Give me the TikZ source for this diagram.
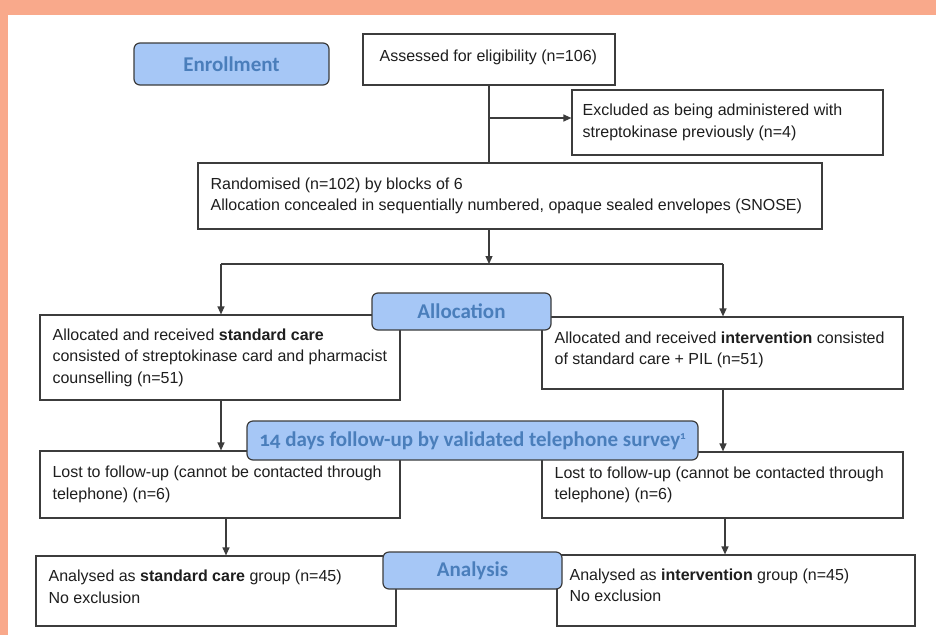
\documentclass[tikz,border=0pt]{standalone}
\usepackage{fontspec}
\setmainfont{Liberation Sans}
\newfontfamily\labfont[Numbers=OldStyle]{Carlito}
\usetikzlibrary{arrows.meta}
\definecolor{bgorange}{RGB}{249,169,139}
\definecolor{labfill}{RGB}{166,199,246}
\definecolor{labtext}{RGB}{74,126,187}
\definecolor{edge}{RGB}{60,60,60}
\definecolor{ink}{RGB}{30,30,30}
\begin{document}
\begin{tikzpicture}[x=1pt,y=-1pt,
  box/.style={draw=edge, line width=1.2pt, fill=white, rectangle, inner sep=0pt},
  txt/.style={anchor=west, align=left, inner sep=0pt, text=ink, font=\fontsize{16}{21.5}\selectfont},
  lab/.style={draw=edge, line width=1.2pt, fill=labfill, rounded corners=6pt, inner sep=0pt, text=labtext, font=\labfont\bfseries\fontsize{21}{25}\selectfont},
  arr/.style={draw=edge, line width=1.2pt, -{Triangle[length=8pt,width=7pt]}},
  ln/.style={draw=edge, line width=1.2pt}]

\useasboundingbox (0,0) rectangle (936,635);
\fill[bgorange] (0,0) rectangle (936,635);
\fill[white] (8,15) rectangle (936,635);

% boxes
\node[box, minimum width=252pt, minimum height=51pt] (assess) at (489,59.5) {};
\node[box, minimum width=311pt, minimum height=65pt] (excl) at (727.5,122.5) {};
\node[box, minimum width=624pt, minimum height=66pt] (rand) at (510,196) {};
\node[box, minimum width=360pt, minimum height=85pt] (std) at (220,357.5) {};
\node[box, minimum width=361pt, minimum height=72pt] (int) at (722.5,353) {};
\node[box, minimum width=360pt, minimum height=67pt] (lostL) at (220,484.5) {};
\node[box, minimum width=361pt, minimum height=66pt] (lostR) at (722.5,485) {};
\node[box, minimum width=360pt, minimum height=70pt] (anaL) at (216,591) {};
\node[box, minimum width=358pt, minimum height=71pt] (anaR) at (736,590.5) {};

% texts
\node[txt] (assessT) at ([xshift=17pt,yshift=2pt]assess.west) {Assessed for eligibility (n=106)};
\node[txt] (exclT) at ([xshift=11pt]excl.west) {Excluded as being administered with\\streptokinase previously (n=4)};
\node[txt] (randT) at ([xshift=13pt]rand.west) {Randomised (n=102) by blocks of 6\\Allocation concealed in sequentially numbered, opaque sealed envelopes (SNOSE)};
\node[txt] (stdT) at ([xshift=13pt]std.west) {Allocated and received \textbf{standard care}\\consisted of streptokinase card and pharmacist\\counselling (n=51)};
\node[txt] (intT) at ([xshift=13pt,yshift=3pt]int.west) {Allocated and received \textbf{intervention} consisted\\of standard care + PIL (n=51)};
\node[txt] (lostLT) at ([xshift=13pt]lostL.west) {Lost to follow-up (cannot be contacted through\\telephone) (n=6)};
\node[txt] (lostRT) at ([xshift=13pt]lostR.west) {Lost to follow-up (cannot be contacted through\\telephone) (n=6)};
\node[txt] (anaLT) at ([xshift=13pt,yshift=4pt]anaL.west) {Analysed as \textbf{standard care} group (n=45)\\No exclusion};
\node[txt] (anaRT) at ([xshift=13pt,yshift=5pt]anaR.west) {Analysed as \textbf{intervention} group (n=45)\\No exclusion};

% connectors
\coordinate (br) at (489,118);
\coordinate (split) at (489,264);
\coordinate (splitL) at (221,264);
\coordinate (splitR) at (723,264);
\coordinate (dL) at (226,518);
\coordinate (dR) at (725,518);
\draw[ln] (assess.south) -- (assess.south |- rand.north);
\draw[arr] (br) -- (br -| excl.west);
\draw[arr] (rand.south -| split) -- (split);
\draw[ln] (splitL) -- (splitR);
\draw[arr] (splitL) -- (splitL |- std.north);
\draw[arr] (splitR) -- (splitR |- int.north);
\draw[arr] (std.south -| splitL) -- (splitL |- lostL.north);
\draw[arr] (int.south -| splitR) -- (splitR |- lostR.north);
\draw[arr] (dL) -- (dL |- anaL.north);
\draw[arr] (dR) -- (dR |- anaR.north);

% stage labels
\node[lab, minimum width=195pt, minimum height=42pt] (enroll) at (231.5,64) {Enrollment};
\node[lab, minimum width=179pt, minimum height=37pt] (alloc) at (461.5,311.5) {Allocation};
\node[lab, minimum width=451pt, minimum height=39pt] (follow) at (472.5,440.5) {14 days follow-up by validated telephone survey{\fontsize{11}{11}\selectfont\raisebox{7pt}{1}}};
\node[lab, minimum width=179pt, minimum height=37pt] (analysis) at (472.5,570.5) {Analysis};
\end{tikzpicture}
\end{document}
